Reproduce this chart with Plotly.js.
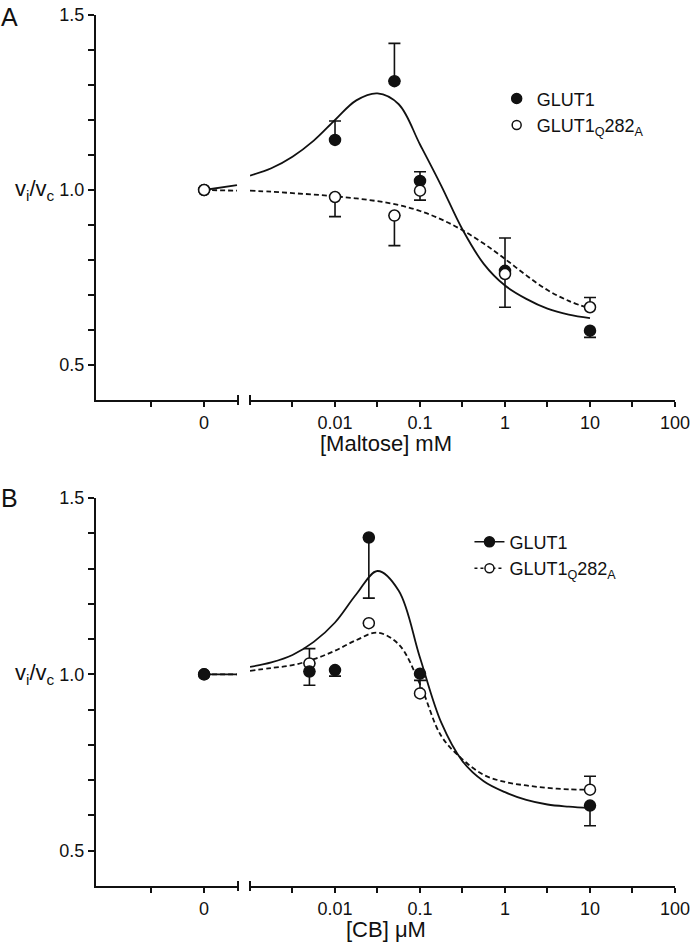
<!DOCTYPE html>
<html>
<head>
<meta charset="utf-8">
<script src="https://cdn.plot.ly/plotly-3.0.1.min.js"></script>
<style>html,body{margin:0;padding:0;background:#fff}#chart{width:693px;height:942px}</style>
</head>
<body>
<div id="chart"></div>
<script>
// ---------- Panel A : Maltose ----------
const maltoseConc = [0, 0.01, 0.05, 0.1, 1, 10];
const glut1A = [1.0, 1.143, 1.311, 1.026, 0.769, 0.598];
const glut1AErrPlus = [0, 0.054, 0.108, 0.026, 0.094, 0];
const glut1AErrMinus = [0, 0, 0, 0, 0, 0.019];
const mutA = [1.0, 0.98, 0.927, 0.998, 0.76, 0.665];
const mutAErrPlus = [0, 0, 0, 0, 0, 0.028];
const mutAErrMinus = [0, 0.056, 0.086, 0.027, 0.095, 0];

// fitted curves
const fitConcA = [0.001, 0.00178, 0.00316, 0.00562, 0.01, 0.0178, 0.0316, 0.0562, 0.1, 0.178, 0.316, 0.562, 1, 1.78, 3.16, 5.62, 10];
const fitGlut1A = [1.041, 1.062, 1.095, 1.141, 1.2, 1.256, 1.276, 1.245, 1.13, 1.012, 0.887, 0.789, 0.727, 0.689, 0.661, 0.644, 0.634];
const fitMutA = [0.998, 0.995, 0.991, 0.987, 0.982, 0.976, 0.968, 0.957, 0.940, 0.916, 0.885, 0.847, 0.803, 0.756, 0.714, 0.683, 0.661];
// short fit stubs drawn on the "0" segment
const stubX = [0, 0.62];
const stubGlut1A = [1.0, 1.014];
const stubMutA = [1.0, 0.998];

// ---------- Panel B : CB ----------
const cbConcGlut1 = [0, 0.005, 0.01, 0.025, 0.1, 10];
const glut1B = [1.0, 1.008, 1.012, 1.388, 1.002, 0.628];
const glut1BErrPlus = [0, 0, 0, 0, 0, 0];
const glut1BErrMinus = [0, 0.039, 0.017, 0.172, 0, 0.057];
const cbConcMut = [0, 0.005, 0.025, 0.1, 10];
const mutB = [1.0, 1.031, 1.145, 0.946, 0.673];
const mutBErrPlus = [0, 0.042, 0, 0.037, 0.038];
const mutBErrMinus = [0, 0, 0, 0, 0];

const fitConcB = [0.001, 0.00178, 0.00316, 0.00562, 0.01, 0.0178, 0.0316, 0.0562, 0.1, 0.178, 0.316, 0.562, 1, 1.78, 3.16, 5.62, 10];
const fitGlut1B = [1.021, 1.034, 1.055, 1.092, 1.147, 1.227, 1.293, 1.237, 1.047, 0.863, 0.754, 0.697, 0.666, 0.644, 0.631, 0.625, 0.621];
const fitMutB = [1.010, 1.018, 1.026, 1.043, 1.067, 1.097, 1.118, 1.085, 0.972, 0.825, 0.759, 0.715, 0.695, 0.685, 0.678, 0.674, 0.673];
const stubGlut1B = [1.0, 1.0];
const stubMutB = [1.0, 1.0];

// ---------- ticks ----------
const yMajorVals = [0.5, 1.0, 1.5];
const yMajorText = ['0.5', '1.0', '1.5'];
const yMinorVals = [0.6, 0.7, 0.8, 0.9, 1.1, 1.2, 1.3, 1.4];
const zeroMajorVals = [0];
const zeroMajorText = ['0'];
const zeroMinorVals = [-1];
const logMajorVals = [0.01, 0.1, 1, 10, 100];
const logMajorText = ['0.01', '0.1', '1', '10', '100'];
const logMinorVals = [0.00316, 0.0316, 0.316, 3.16, 31.6];

const nameWT = 'GLUT1';
const nameMut = 'GLUT1<sub>Q</sub>282<sub>A</sub>';

const FONT = 'Liberation Sans, Arial, Helvetica, sans-serif';
const INK = '#111';

function split(conc, vals, plus, minus) {
  const z = {x: [], y: [], p: [], m: []}, r = {x: [], y: [], p: [], m: []};
  conc.forEach((c, i) => {
    const t = c === 0 ? z : r;
    t.x.push(c); t.y.push(vals[i]); t.p.push(plus[i]); t.m.push(minus[i]);
  });
  return [z, r];
}

function pointTraces(conc, vals, plus, minus, filled, xl, xr, ya) {
  const [z, r] = split(conc, vals, plus, minus);
  const marker = {size: 11, color: filled ? INK : '#fff', line: {color: INK, width: 1.5}};
  const mk = (d, xa) => ({
    type: 'scatter', mode: 'markers', x: d.x, y: d.y, xaxis: xa, yaxis: ya,
    marker: marker, showlegend: false, cliponaxis: false, hoverinfo: 'skip',
    error_y: {type: 'data', symmetric: false, array: d.p, arrayminus: d.m,
              color: INK, thickness: 1.6, width: 6}
  });
  return [mk(z, xl), mk(r, xr)];
}

function lineTrace(x, y, dash, xa, ya) {
  return {type: 'scatter', mode: 'lines', x: x, y: y, xaxis: xa, yaxis: ya,
          line: {color: INK, width: 1.8, dash: dash, shape: 'spline', smoothing: 1},
          showlegend: false, hoverinfo: 'skip'};
}

function legendTrace(name, filled, withLine, dash, legend, xa, ya) {
  return {type: 'scatter', mode: withLine ? 'lines+markers' : 'markers', x: [null], y: [null],
          xaxis: xa, yaxis: ya, name: name, legend: legend,
          marker: {size: filled ? 10 : 9, color: filled ? INK : '#fff', line: {color: INK, width: 1.5}},
          line: {color: INK, width: 1.5, dash: dash}};
}

const data = [
  // Panel A
  lineTrace(stubX, stubGlut1A, 'solid', 'x', 'y'),
  lineTrace(stubX, stubMutA, '5px,3px', 'x', 'y'),
  lineTrace(fitConcA, fitGlut1A, 'solid', 'x2', 'y'),
  lineTrace(fitConcA, fitMutA, '5px,3px', 'x2', 'y'),
  ...pointTraces(maltoseConc, glut1A, glut1AErrPlus, glut1AErrMinus, true, 'x', 'x2', 'y'),
  ...pointTraces(maltoseConc, mutA, mutAErrPlus, mutAErrMinus, false, 'x', 'x2', 'y'),
  legendTrace(nameWT, true, false, 'solid', 'legend', 'x2', 'y'),
  legendTrace(nameMut, false, false, 'solid', 'legend', 'x2', 'y'),
  // Panel B
  lineTrace(stubX, stubGlut1B, 'solid', 'x3', 'y2'),
  lineTrace(stubX, stubMutB, '5px,3px', 'x3', 'y2'),
  lineTrace(fitConcB, fitGlut1B, 'solid', 'x4', 'y2'),
  lineTrace(fitConcB, fitMutB, '5px,3px', 'x4', 'y2'),
  ...pointTraces(cbConcMut, mutB, mutBErrPlus, mutBErrMinus, false, 'x3', 'x4', 'y2'),
  ...pointTraces(cbConcGlut1, glut1B, glut1BErrPlus, glut1BErrMinus, true, 'x3', 'x4', 'y2'),
  legendTrace(nameWT, true, true, 'solid', 'legend2', 'x4', 'y2'),
  legendTrace(nameMut, false, true, '3px,3px', 'legend2', 'x4', 'y2')
];

const axBase = {showline: true, linecolor: INK, linewidth: 2, showgrid: false, zeroline: false,
                ticks: 'outside', ticklen: 5, tickwidth: 2, tickcolor: INK,
                tickfont: {family: FONT, size: 18, color: INK}, fixedrange: true};
const minorOf = (vals, len) => ({tickmode: 'array', tickvals: vals, ticks: 'outside', ticklen: len,
                                 tickwidth: 2, tickcolor: INK, showgrid: false});

const zeroAx = (anchor) => Object.assign({}, axBase, {domain: [0, 0.2453], range: [-2.04, 0.64],
  tickmode: 'array', tickvals: zeroMajorVals, ticktext: zeroMajorText, anchor: anchor,
  minor: minorOf(zeroMinorVals, 5)});
const logAx = (anchor) => Object.assign({}, axBase, {domain: [0.266, 1], type: 'log', range: [-3, 2],
  tickmode: 'array', tickvals: logMajorVals, ticktext: logMajorText, anchor: anchor,
  minor: minorOf(logMinorVals, 5)});
const yAx = (domain, anchor) => Object.assign({}, axBase, {domain: domain, range: [0.4, 1.5],
  tickmode: 'array', tickvals: yMajorVals, ticktext: yMajorText, anchor: anchor, ticklen: 6,
  minor: minorOf(yMinorVals, 6)});

const yDomA = [0.558, 1];
const yDomB = [0, 0.4455];

function caps(xr1, xr2, yDomBottom) {
  const c = (xref, x) => ({type: 'line', xref: xref, yref: 'paper', x0: x, x1: x,
     ysizemode: 'pixel', yanchor: yDomBottom, y0: -5, y1: 5, line: {color: INK, width: 2}});
  return [c(xr1 + ' domain', 1), c(xr2 + ' domain', 0)];
}

const annFont = {family: FONT, color: INK};
const layout = {
  width: 693, height: 942,
  margin: {l: 96, r: 18, t: 15, b: 56},
  paper_bgcolor: '#fff', plot_bgcolor: '#fff',
  font: {family: FONT, color: INK},
  xaxis: zeroAx('y'),
  xaxis2: logAx('y'),
  yaxis: yAx(yDomA, 'x'),
  xaxis3: zeroAx('y2'),
  xaxis4: logAx('y2'),
  yaxis2: yAx(yDomB, 'x3'),
  shapes: [...caps('x', 'x2', yDomA[0]), ...caps('x3', 'x4', yDomB[0])],
  legend: {x: 0.692, y: 0.925, xanchor: 'left', yanchor: 'top', bgcolor: 'rgba(0,0,0,0)',
           font: {family: FONT, size: 18, color: INK}, itemclick: false, itemdoubleclick: false},
  legend2: {x: 0.645, y: 0.416, xanchor: 'left', yanchor: 'top', bgcolor: 'rgba(0,0,0,0)',
           font: {family: FONT, size: 18, color: INK}, itemclick: false, itemdoubleclick: false},
  annotations: [
    {text: 'A', xref: 'paper', yref: 'paper', x: -0.149, y: 0.998, xanchor: 'center', yanchor: 'middle',
     showarrow: false, font: Object.assign({size: 25}, annFont)},
    {text: 'B', xref: 'paper', yref: 'paper', x: -0.149, y: 0.446, xanchor: 'center', yanchor: 'middle',
     showarrow: false, font: Object.assign({size: 25}, annFont)},
    {text: 'v<sub>i</sub>/v<sub>c</sub>', xref: 'paper', yref: 'y', x: -0.106, y: 1.0,
     xanchor: 'center', yanchor: 'middle', showarrow: false, font: Object.assign({size: 22}, annFont)},
    {text: 'v<sub>i</sub>/v<sub>c</sub>', xref: 'paper', yref: 'y2', x: -0.106, y: 1.0,
     xanchor: 'center', yanchor: 'middle', showarrow: false, font: Object.assign({size: 22}, annFont)},
    {text: '[Maltose] mM', xref: 'paper', yref: 'paper', x: 0.5, y: 0.5086,
     xanchor: 'center', yanchor: 'middle', showarrow: false, font: Object.assign({size: 22}, annFont)},
    {text: '[CB] μM', xref: 'paper', yref: 'paper', x: 0.5, y: -0.0494,
     xanchor: 'center', yanchor: 'middle', showarrow: false, font: Object.assign({size: 22}, annFont)}
  ]
};

Plotly.newPlot('chart', data, layout, {staticPlot: true, displayModeBar: false});
</script>
</body>
</html>
